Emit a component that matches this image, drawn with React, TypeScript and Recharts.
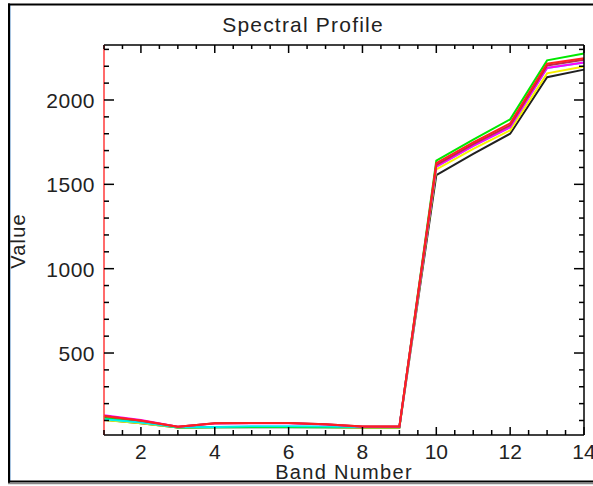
import React from "react";
import { LineChart, Line, XAxis, YAxis } from "recharts";

const bands = [1, 2, 3, 4, 5, 6, 7, 8, 9, 10, 11, 12, 13, 14];

const blackVals = [104, 84, 58, 60, 60, 60, 60, 58, 58, 1555, 1680, 1800, 2135, 2180];
const yellowVals = [103, 83, 59, 61, 62, 62, 61, 59, 59, 1588, 1710, 1820, 2158, 2198];
const greenVals = [116, 93, 58, 60, 62, 62, 60, 60, 60, 1640, 1765, 1885, 2235, 2275];
const cyanVals = [108, 88, 60, 62, 66, 66, 64, 62, 62, 1605, 1728, 1838, 2190, 2222];
const magentaVals = [131, 103, 63, 82, 84, 84, 76, 63, 63, 1605, 1728, 1838, 2190, 2222];
const crimsonVals = [126, 99, 63, 83, 85, 85, 77, 64, 64, 1615, 1738, 1850, 2205, 2238];
const redVals = [127, 100, 63, 83, 85, 85, 77, 64, 64, 1625, 1748, 1862, 2215, 2248];

const xTicks = [1, 1.5, 2, 2.5, 3, 3.5, 4, 4.5, 5, 5.5, 6, 6.5, 7, 7.5, 8, 8.5, 9, 9.5, 10, 10.5, 11, 11.5, 12, 12.5, 13, 13.5, 14];
const yTicks = [100, 200, 300, 400, 500, 600, 700, 800, 900, 1000, 1100, 1200, 1300, 1400, 1500, 1600, 1700, 1800, 1900, 2000, 2100, 2200, 2300];

const series = [
  { key: "black", vals: blackVals, color: "#202020" },
  { key: "yellow", vals: yellowVals, color: "#f8f000" },
  { key: "green", vals: greenVals, color: "#00e800" },
  { key: "cyan", vals: cyanVals, color: "#00eef0" },
  { key: "magenta", vals: magentaVals, color: "#ff00ff" },
  { key: "crimson", vals: crimsonVals, color: "#c02848" },
  { key: "red", vals: redVals, color: "#ff2020" },
];

const data = bands.map((b, i) => {
  const row: any = { band: b };
  series.forEach((s) => (row[s.key] = s.vals[i]));
  return row;
});

const FONT = "'Liberation Sans', Arial, sans-serif";
const TXT = "#222";

const XTickBottom = (props: any) => {
  const { x, y, payload } = props;
  const v = payload.value;
  const major = Number.isInteger(v) && v % 2 === 0;
  const len = major ? 8 : 5;
  return (
    <g>
      <line x1={x} x2={x} y1={y} y2={y - len} stroke="#000" strokeWidth={1.5} />
      {major && (
        <text x={x} y={y + 24} textAnchor="middle" fontFamily={FONT} fontSize={21} fill={TXT}>
          {v}
        </text>
      )}
    </g>
  );
};

const XTickTop = (props: any) => {
  const { x, y, payload } = props;
  const v = payload.value;
  const major = Number.isInteger(v) && v % 2 === 0;
  const len = major ? 8 : 4;
  return <line x1={x} x2={x} y1={y} y2={y + len} stroke="#000" strokeWidth={1.5} />;
};

const YTickLeft = (props: any) => {
  const { x, y, payload } = props;
  const v = payload.value;
  const major = v % 500 === 0;
  const len = major ? 10 : 5;
  return (
    <g>
      <line x1={x} x2={x + len} y1={y} y2={y} stroke="#000" strokeWidth={1.5} />
      {major && (
        <text x={x - 9} y={y + 8} textAnchor="end" fontFamily={FONT} fontSize={21} letterSpacing={0.5} fill={TXT}>
          {v}
        </text>
      )}
    </g>
  );
};

const YTickRight = (props: any) => {
  const { x, y, payload } = props;
  const v = payload.value;
  const major = v % 500 === 0;
  const len = major ? 10 : 5;
  return <line x1={x} x2={x - len} y1={y} y2={y} stroke="#000" strokeWidth={1.5} />;
};

export default function App() {
  return (
    <div style={{ position: "absolute", left: 0, top: 0, width: 593, height: 486, background: "#fff", overflow: "hidden" }}>
      <LineChart width={593} height={486} data={data} margin={{ top: 44, right: 8, left: 0, bottom: 0 }}>
        <XAxis
          xAxisId="b"
          dataKey="band"
          type="number"
          domain={[1, 14]}
          ticks={xTicks}
          interval={0}
          height={51}
          tickSize={0}
          tickMargin={0}
          tickLine={false}
          axisLine={{ stroke: "#000", strokeWidth: 1.5 }}
          tick={<XTickBottom />}
        />
        <XAxis
          xAxisId="t"
          orientation="top"
          dataKey="band"
          type="number"
          domain={[1, 14]}
          ticks={xTicks}
          interval={0}
          height={1}
          tickSize={0}
          tickMargin={0}
          tickLine={false}
          axisLine={{ stroke: "#000", strokeWidth: 1.5 }}
          tick={<XTickTop />}
        />
        <YAxis
          yAxisId="l"
          type="number"
          domain={[14, 2326]}
          allowDataOverflow
          ticks={yTicks}
          interval={0}
          width={104}
          tickSize={0}
          tickMargin={0}
          tickLine={false}
          axisLine={{ stroke: "#ff3a3a", strokeWidth: 1.5 }}
          tick={<YTickLeft />}
        />
        <YAxis
          yAxisId="r"
          orientation="right"
          type="number"
          domain={[14, 2326]}
          allowDataOverflow
          ticks={yTicks}
          interval={0}
          width={1}
          tickSize={0}
          tickMargin={0}
          tickLine={false}
          axisLine={{ stroke: "#000", strokeWidth: 1.5 }}
          tick={<YTickRight />}
        />
        {series.map((s) => (
          <Line
            key={s.key}
            xAxisId="b"
            yAxisId="l"
            type="linear"
            dataKey={s.key}
            stroke={s.color}
            strokeWidth={2}
            dot={false}
            activeDot={false}
            isAnimationActive={false}
          />
        ))}
      </LineChart>
      <svg width={593} height={486} style={{ position: "absolute", left: 0, top: 0, pointerEvents: "none" }}>
        <line x1={9} x2={9} y1={3.5} y2={483} stroke="#000" strokeWidth={2} />
        <line x1={10.5} x2={10.5} y1={5} y2={481} stroke="#a8c4e0" strokeWidth={1} />
        <line x1={8} x2={593} y1={4.5} y2={4.5} stroke="#000" strokeWidth={2} />
        <line x1={8} x2={593} y1={481.5} y2={481.5} stroke="#000" strokeWidth={2} />
        <line x1={8} x2={593} y1={483.5} y2={483.5} stroke="#888" strokeWidth={1.5} />
        <text x={303} y={32} textAnchor="middle" fontFamily={FONT} fontSize={21} letterSpacing={1.2} fill={TXT}>
          Spectral Profile
        </text>
        <text x={344} y={479} textAnchor="middle" fontFamily={FONT} fontSize={20} letterSpacing={1.3} fill={TXT}>
          Band Number
        </text>
        <text
          x={0}
          y={0}
          transform="translate(25,241) rotate(-90)"
          textAnchor="middle"
          fontFamily={FONT}
          fontSize={20}
          letterSpacing={1.2}
          fill={TXT}
        >
          Value
        </text>
      </svg>
    </div>
  );
}
